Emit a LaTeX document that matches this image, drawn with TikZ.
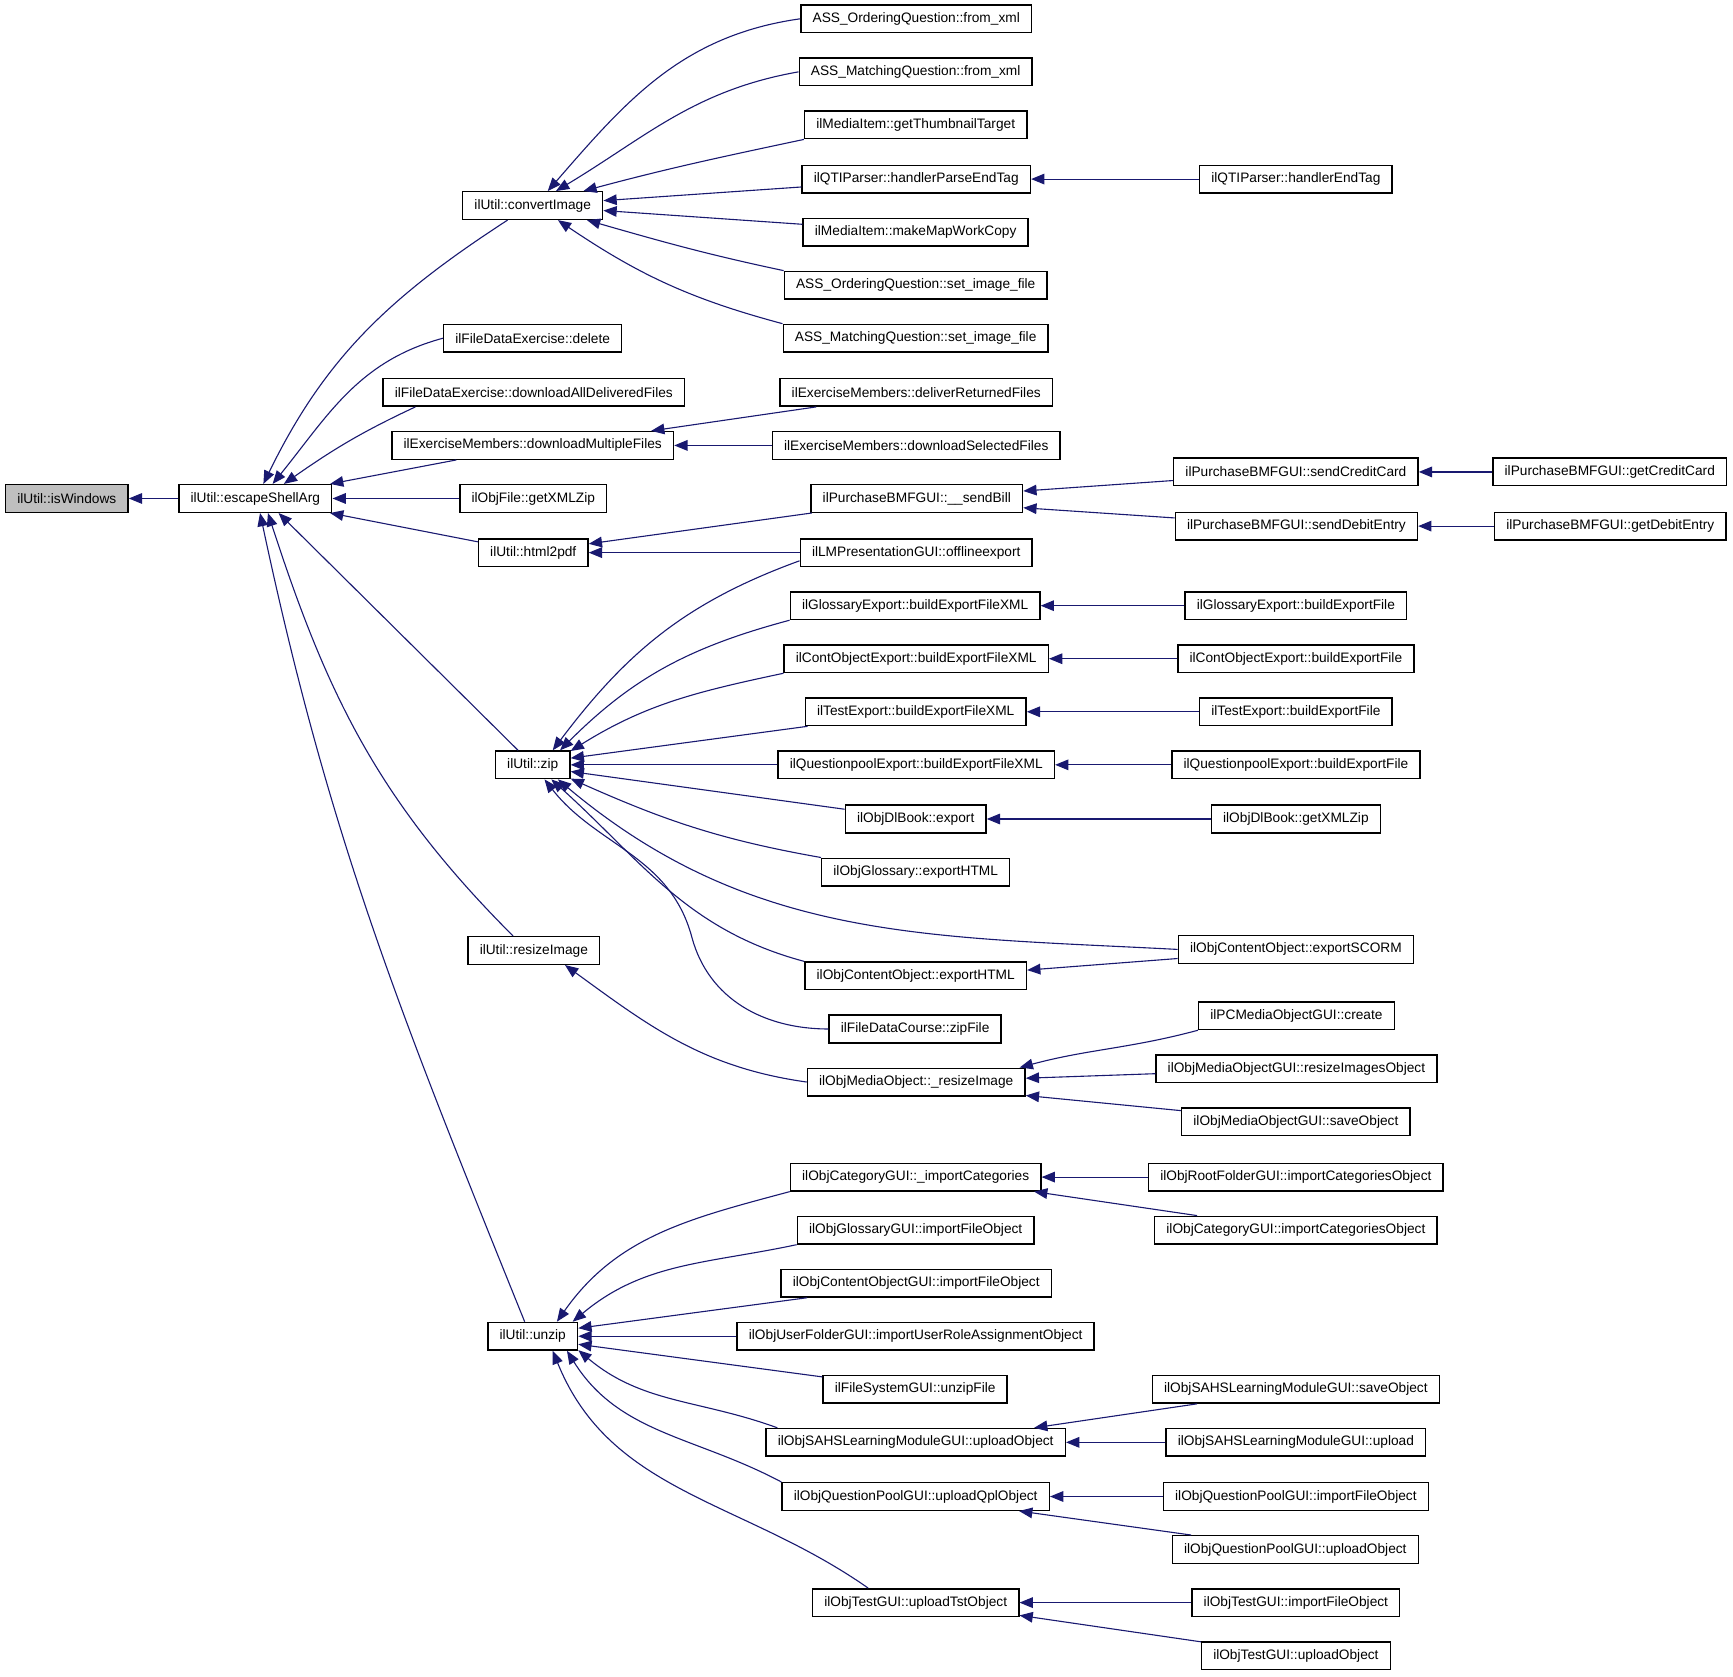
\documentclass[tikz,border=0pt]{standalone}
\usepackage{fontspec}
\setmainfont{Liberation Sans}
\usetikzlibrary{arrows.meta}
\definecolor{edgeblue}{RGB}{25,25,112}
\definecolor{rootgray}{RGB}{191,191,191}
\tikzset{
  func/.style={draw=black, line width=0.65pt, fill=white, minimum height=12.5pt,
    inner xsep=5.3pt, inner ysep=0pt, font=\fontsize{6.2}{7}\selectfont},
  call/.style={draw=edgeblue, line width=0.5pt, -{Triangle[length=6pt,width=4.8pt]}},
}

\begin{document}
\begin{tikzpicture}[x=0.5pt, y=-0.5pt]
      \useasboundingbox (0,0) rectangle (1568,1517);

      % first two levels
      \node[func, fill=rootgray] (isWin) at (60.5,451) {ilUtil::isWindows};
      \node[func] (esc) at (231,451) {ilUtil::escapeShellArg};

      \node[func] (cimg) at (482,186) {ilUtil::convertImage};
      \node[func] (fdeDel) at (482,306) {ilFileDataExercise::delete};
      \node[func] (fdeAll) at (483,355) {ilFileDataExercise::downloadAllDeliveredFiles};
      \node[func] (exMult) at (482,403) {ilExerciseMembers::downloadMultipleFiles};
      \node[func] (ofZip) at (482.5,451) {ilObjFile::getXMLZip};
      \node[func] (htmlPdf) at (482.5,500) {ilUtil::html2pdf};
      \node[func] (zip) at (482,692) {ilUtil::zip};
      \node[func] (resize) at (483,860) {ilUtil::resizeImage};
      \node[func] (unzip) at (482,1209) {ilUtil::unzip};

      % third level
      \node[func] (oqXml) at (829,17) {ASS\_OrderingQuestion::from\_xml};
      \node[func] (mqXml) at (828.5,65) {ASS\_MatchingQuestion::from\_xml};
      \node[func] (thumb) at (828.5,113) {ilMediaItem::getThumbnailTarget};
      \node[func] (qtiPET) at (829,162) {ilQTIParser::handlerParseEndTag};
      \node[func] (mapWC) at (828.5,210) {ilMediaItem::makeMapWorkCopy};
      \node[func] (oqImg) at (828.5,258) {ASS\_OrderingQuestion::set\_image\_file};
      \node[func] (mqImg) at (828.5,306) {ASS\_MatchingQuestion::set\_image\_file};
      \node[func] (deliv) at (829,355) {ilExerciseMembers::deliverReturnedFiles};
      \node[func] (dlSel) at (829,403) {ilExerciseMembers::downloadSelectedFiles};
      \node[func] (sendBill) at (829.5,451) {ilPurchaseBMFGUI::\_\_sendBill};
      \node[func] (offline) at (829,500) {ilLMPresentationGUI::offlineexport};
      \node[func] (gloXML) at (828,548) {ilGlossaryExport::buildExportFileXML};
      \node[func] (coXML) at (829,596) {ilContObjectExport::buildExportFileXML};
      \node[func] (tstXML) at (828.5,644) {ilTestExport::buildExportFileXML};
      \node[func] (qpXML) at (829,692) {ilQuestionpoolExport::buildExportFileXML};
      \node[func] (dlExp) at (828.5,741) {ilObjDlBook::export};
      \node[func] (gloHTML) at (828.5,789) {ilObjGlossary::exportHTML};
      \node[func] (coHTML) at (828.5,883) {ilObjContentObject::exportHTML};
      \node[func] (zipFile) at (828,931) {ilFileDataCourse::zipFile};
      \node[func] (resImg) at (829,979) {ilObjMediaObject::\_resizeImage};
      \node[func] (impCat) at (828.5,1065) {ilObjCategoryGUI::\_importCategories};
      \node[func] (gloImp) at (828.5,1113) {ilObjGlossaryGUI::importFileObject};
      \node[func] (coImp) at (829,1161) {ilObjContentObjectGUI::importFileObject};
      \node[func] (ufImp) at (828.5,1209) {ilObjUserFolderGUI::importUserRoleAssignmentObject};
      \node[func] (fsUnzip) at (828,1257) {ilFileSystemGUI::unzipFile};
      \node[func] (sahsUp) at (828.5,1305) {ilObjSAHSLearningModuleGUI::uploadObject};
      \node[func] (qplUp) at (828.5,1354) {ilObjQuestionPoolGUI::uploadQplObject};
      \node[func] (tstUp) at (828.5,1450) {ilObjTestGUI::uploadTstObject};

      % fourth and fifth level
      \node[func] (qtiEnd) at (1172.5,162) {ilQTIParser::handlerEndTag};
      \node[func] (sendCC) at (1172.5,427) {ilPurchaseBMFGUI::sendCreditCard};
      \node[func] (sendDE) at (1173,476) {ilPurchaseBMFGUI::sendDebitEntry};
      \node[func] (gloFile) at (1172.5,548) {ilGlossaryExport::buildExportFile};
      \node[func] (coFile) at (1172.5,596) {ilContObjectExport::buildExportFile};
      \node[func] (tstFile) at (1172.5,644) {ilTestExport::buildExportFile};
      \node[func] (qpFile) at (1172.5,692) {ilQuestionpoolExport::buildExportFile};
      \node[func] (dlZip) at (1172.5,741) {ilObjDlBook::getXMLZip};
      \node[func] (scorm) at (1172.5,859) {ilObjContentObject::exportSCORM};
      \node[func] (pcCreate) at (1173,919) {ilPCMediaObjectGUI::create};
      \node[func] (mobResize) at (1173,967) {ilObjMediaObjectGUI::resizeImagesObject};
      \node[func] (mobSave) at (1172.5,1015) {ilObjMediaObjectGUI::saveObject};
      \node[func] (rootCat) at (1172.5,1065) {ilObjRootFolderGUI::importCategoriesObject};
      \node[func] (catCat) at (1172.5,1113) {ilObjCategoryGUI::importCategoriesObject};
      \node[func] (sahsSave) at (1172.5,1257) {ilObjSAHSLearningModuleGUI::saveObject};
      \node[func] (sahsUpl) at (1172.5,1305) {ilObjSAHSLearningModuleGUI::upload};
      \node[func] (qpImp) at (1172.5,1354) {ilObjQuestionPoolGUI::importFileObject};
      \node[func] (qpUpObj) at (1172,1402) {ilObjQuestionPoolGUI::uploadObject};
      \node[func] (tstImp) at (1172.5,1450) {ilObjTestGUI::importFileObject};
      \node[func] (tstUpObj) at (1172.5,1498) {ilObjTestGUI::uploadObject};
      \node[func] (getCC) at (1456.5,427) {ilPurchaseBMFGUI::getCreditCard};
      \node[func] (getDE) at (1457,476) {ilPurchaseBMFGUI::getDebitEntry};

      % calls into escapeShellArg
      \draw[call] (esc) -- (isWin);
      \draw[call] (cimg.-150) to[out=213,in=64] (esc.61);
      \draw[call] (fdeDel.west) to[out=195,in=51] (esc.40);
      \draw[call] (fdeAll.-173) to[out=205,in=35] (esc.27);
      \draw[call] (exMult) -- (esc.11);
      \draw[call] (ofZip) -- (esc);
      \draw[call] (htmlPdf) -- (esc.-11);
      \draw[call] (zip) -- (esc.-32);
      \draw[call] (resize.145) to[out=135,in=-72] (esc.-49);
      \draw[call] (unzip.119) to[out=112,in=-78] (esc.-72);

      % convertImage
      \draw[call] (oqXml.west) to[out=188,in=49] (cimg.44);
      \draw[call] (mqXml.west) to[out=190,in=31] (cimg.32);
      \draw[call] (thumb.south west) to[out=192,in=15] (cimg.16);
      \draw[call] (qtiPET) -- (cimg.4);
      \draw[call] (mapWC) -- (cimg.-4);
      \draw[call] (oqImg.north west) to[out=168,in=-16] (cimg.-15);
      \draw[call] (mqImg.north west) to[out=165,in=-34] (cimg.-30);
      \draw[call] (qtiEnd) -- (qtiPET);

      % exercise, html2pdf, purchase
      \draw[call] (deliv) -- (exMult.7);
      \draw[call] (dlSel) -- (exMult);
      \draw[call] (sendBill) -- (htmlPdf.9);
      \draw[call] (offline) -- (htmlPdf);
      \draw[call] (sendCC) -- (sendBill.4);
      \draw[call] (sendDE) -- (sendBill.-5);
      \draw[call] (getCC) -- (sendCC);
      \draw[call] (getDE) -- (sendDE);

      % zip
      \draw[call] (offline.184) to[out=200,in=53] (zip.36);
      \draw[call] (gloXML.south west) to[out=195,in=45] (zip.28);
      \draw[call] (coXML.south west) to[out=192,in=32] (zip.20);
      \draw[call] (tstXML) -- (zip.10);
      \draw[call] (qpXML) -- (zip);
      \draw[call] (dlExp) -- (zip.-10);
      \draw[call] (gloHTML.north west) to[out=170,in=-24] (zip.-20);
      \draw[call] (scorm.west) to[out=177,in=-40] (zip.-30);
      \draw[call] (coHTML.north west) to[out=165,in=-42] (zip.-38);
      \draw[call] (zipFile.west) to[out=180,in=-75] (626,848) to[out=105,in=-52] (zip.-51);
      \draw[call] (gloFile) -- (gloXML);
      \draw[call] (coFile) -- (coXML);
      \draw[call] (tstFile) -- (tstXML);
      \draw[call] (qpFile) -- (qpXML);
      \draw[call] (dlZip) -- (dlExp);
      \draw[call] (scorm) -- (coHTML.3);

      % resizeImage
      \draw[call] (resImg.west) to[out=172,in=-36] (resize.-25);
      \draw[call] (pcCreate.south west) to[out=195,in=15] (resImg.8);
      \draw[call] (mobResize) -- (resImg.2);
      \draw[call] (mobSave) -- (resImg.-7);

      % unzip
      \draw[call] (impCat.south west) to[out=195,in=55] (unzip.31);
      \draw[call] (gloImp.south west) to[out=192,in=40] (unzip.20);
      \draw[call] (coImp) -- (unzip.10);
      \draw[call] (ufImp) -- (unzip);
      \draw[call] (fsUnzip) -- (unzip.-10);
      \draw[call] (sahsUp.174) to[out=160,in=-40] (unzip.-17);
      \draw[call] (qplUp.north west) to[out=152,in=-58] (unzip.-23);
      \draw[call] (tstUp.163) to[out=145,in=-68] (unzip.-36);
      \draw[call] (rootCat) -- (impCat);
      \draw[call] (catCat) -- (impCat.-7);
      \draw[call] (sahsSave) -- (sahsUp.7);
      \draw[call] (sahsUpl) -- (sahsUp);
      \draw[call] (qpImp) -- (qplUp);
      \draw[call] (qpUpObj) -- (qplUp.-8);
      \draw[call] (tstImp) -- (tstUp);
      \draw[call] (tstUpObj) -- (tstUp.-7);
    \end{tikzpicture}
\end{document}
